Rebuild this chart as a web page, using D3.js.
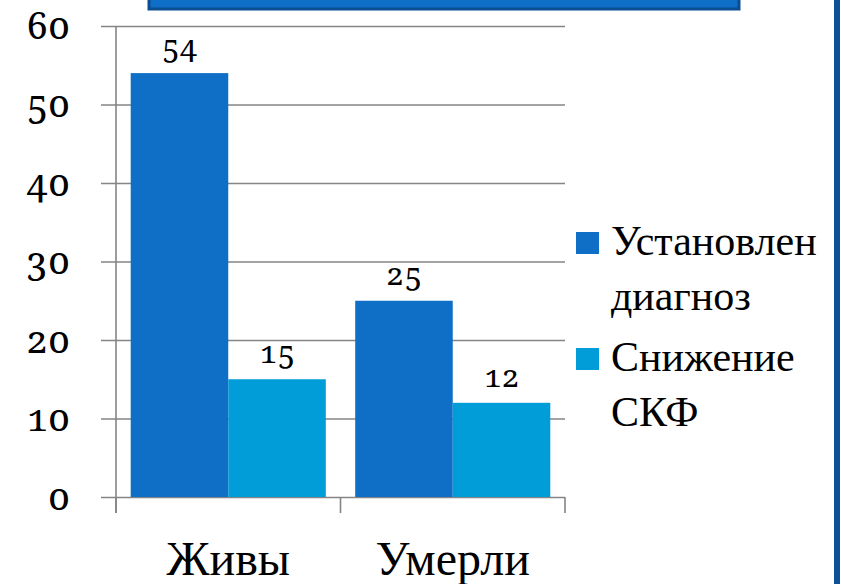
<!DOCTYPE html>
<html>
<head>
<meta charset="utf-8">
<title>Живы / Умерли</title>
<script src="https://cdn.jsdelivr.net/npm/d3@7"></script>
<style>
  html, body { margin: 0; padding: 0; background: #fff; }
  svg { display: block; }
</style>
</head>
<body>
<script>
  // данные
  var categories = ["Живы", "Умерли"];
  var seriesNames = ["Установлен диагноз", "Снижение СКФ"];
  var legendLines = [["Установлен", "диагноз"], ["Снижение", "СКФ"]];
  var diagnosis = [54, 25];
  var gfrDrop = [15, 12];
  var yTicks = [0, 10, 20, 30, 40, 50, 60];

  var colors = ["#0f6fc6", "#009dd9"];
  var width = 841, height = 584;
  var numFont = "'Noto Serif'";
  var txtFont = "'Liberation Serif'";

  function numStyle(sel, size) {
    sel.style("font-family", numFont)
       .style("font-size", size + "px")
       .style("font-feature-settings", "'onum' 1")
       .attr("fill", "#000");
  }
  function txtStyle(sel, size) {
    sel.style("font-family", txtFont)
       .style("font-size", size + "px")
       .attr("fill", "#000");
  }

  var svg = d3.select("body").append("svg")
      .attr("width", width)
      .attr("height", height);

  // рамка слайда: полоска заголовка сверху и линия справа
  svg.append("rect")
      .attr("x", 149).attr("y", -10)
      .attr("width", 590).attr("height", 19)
      .attr("fill", "#0f6fc6")
      .attr("stroke", "#0b4f92")
      .attr("stroke-width", 3);
  svg.append("rect")
      .attr("x", 834).attr("y", 0)
      .attr("width", 6).attr("height", height)
      .attr("fill", "#0e5196");

  var plotLeft = 116, plotRight = 565;

  var x0 = d3.scaleBand()
      .domain(categories)
      .range([plotLeft, plotRight])
      .paddingInner(0.131)
      .paddingOuter(0.0655);

  var x1 = d3.scaleBand()
      .domain(d3.range(seriesNames.length))
      .range([0, x0.bandwidth()]);

  var y = d3.scaleLinear()
      .domain([0, 60])
      .range([497, 26]);

  // сетка + подписи оси Y
  var yAxis = svg.append("g")
      .attr("transform", "translate(" + plotRight + ",0)")
      .call(d3.axisLeft(y)
        .tickValues(yTicks)
        .tickSizeInner(plotRight - 101)
        .tickSizeOuter(0)
        .tickPadding(31));
  yAxis.select(".domain").remove();
  yAxis.selectAll(".tick line")
      .attr("stroke", "#858585")
      .attr("stroke-width", 1.6);
  yAxis.selectAll(".tick text").call(numStyle, 38);

  var rows = categories.map(function(c, i) {
    return { cat: c, vals: [diagnosis[i], gfrDrop[i]] };
  });

  var groups = svg.selectAll(".grp")
      .data(rows)
      .enter().append("g")
      .attr("class", "grp")
      .attr("transform", function(d) { return "translate(" + x0(d.cat) + ",0)"; });

  groups.selectAll("rect")
      .data(function(d) { return d.vals; })
      .enter().append("rect")
      .attr("x", function(d, i) { return x1(i); })
      .attr("y", function(d) { return y(d); })
      .attr("width", x1.bandwidth())
      .attr("height", function(d) { return y(0) - y(d); })
      .attr("fill", function(d, i) { return colors[i]; });

  groups.selectAll("text")
      .data(function(d) { return d.vals; })
      .enter().append("text")
      .attr("x", function(d, i) { return x1(i) + x1.bandwidth() / 2; })
      .attr("y", function(d) { return y(d) - 16; })
      .attr("text-anchor", "middle")
      .call(numStyle, 31)
      .text(function(d) { return d; });

  // вертикальная ось
  svg.append("line")
      .attr("x1", plotLeft).attr("x2", plotLeft)
      .attr("y1", y(60)).attr("y2", y(0) + 16)
      .attr("stroke", "#858585")
      .attr("stroke-width", 1.6);

  // засечки между категориями
  var step = x0.step();
  svg.selectAll(".ctick")
      .data(d3.range(categories.length + 1))
      .enter().append("line")
      .attr("class", "ctick")
      .attr("x1", function(i) { return plotLeft + i * step; })
      .attr("x2", function(i) { return plotLeft + i * step; })
      .attr("y1", y(0)).attr("y2", y(0) + 16)
      .attr("stroke", "#858585")
      .attr("stroke-width", 1.6);

  // подписи категорий
  var xAxis = svg.append("g")
      .attr("transform", "translate(0," + y(0) + ")")
      .call(d3.axisBottom(x0).tickSize(0).tickPadding(0));
  xAxis.select(".domain").remove();
  xAxis.selectAll(".tick text")
      .attr("dy", null)
      .attr("y", 78)
      .call(txtStyle, 48);

  // легенда
  var legendTop = [232, 348];
  var legend = svg.selectAll(".leg")
      .data(seriesNames)
      .enter().append("g")
      .attr("class", "leg")
      .attr("transform", function(d, i) { return "translate(576," + legendTop[i] + ")"; });

  legend.append("rect")
      .attr("width", 23).attr("height", 22)
      .attr("fill", function(d, i) { return colors[i]; });

  legend.append("text")
      .call(txtStyle, 42)
      .selectAll("tspan")
      .data(function(d, i) { return legendLines[i]; })
      .enter().append("tspan")
      .attr("x", 35)
      .attr("y", function(d, j) { return 23 + j * 55; })
      .text(function(d) { return d; });
</script>
</body>
</html>
